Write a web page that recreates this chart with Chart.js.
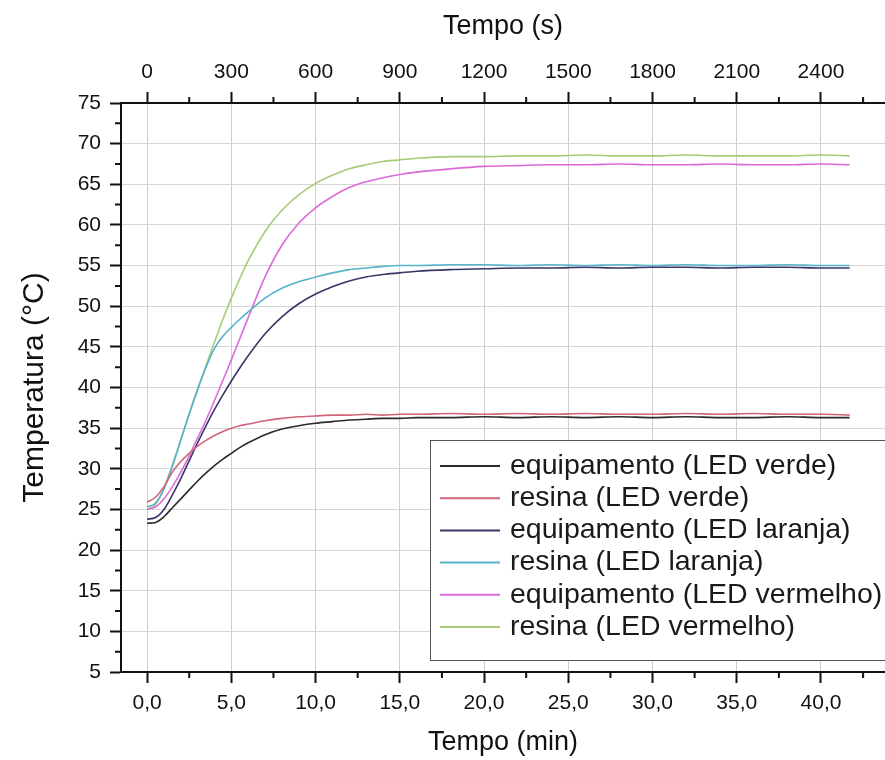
<!DOCTYPE html>
<html>
<head>
<meta charset="utf-8">
<title>Temperatura x Tempo</title>
<script src="https://cdn.jsdelivr.net/npm/chart.js@4.4.1/dist/chart.umd.min.js"></script>
<style>
  html, body { margin: 0; padding: 0; background: #fff; }
</style>
</head>
<body>
<canvas id="tempChart" width="885" height="760"></canvas>
<script>
// tempo em minutos
const tempo = [0, 0.5, 1, 1.5, 2, 2.5, 3, 3.5, 4, 4.5, 5, 5.5, 6, 7, 8, 9, 10, 11, 12, 13, 14, 15, 16, 18, 20, 22, 24, 26, 28, 30, 32, 34, 36, 38, 40, 41.7];

// temperaturas (C)
const equipVerde = [23.3, 23.4, 24.1, 25.2, 26.3, 27.4, 28.5, 29.5, 30.4, 31.2, 31.9, 32.6, 33.2, 34.2, 34.9, 35.3, 35.6, 35.8, 36.0, 36.1, 36.2, 36.2, 36.3, 36.3, 36.4, 36.3, 36.4, 36.3, 36.4, 36.3, 36.4, 36.3, 36.3, 36.4, 36.3, 36.3];
const resinaVerde = [25.9, 26.5, 27.8, 29.6, 30.9, 31.9, 32.8, 33.5, 34.1, 34.6, 35.0, 35.3, 35.5, 35.9, 36.2, 36.4, 36.5, 36.6, 36.6, 36.7, 36.6, 36.7, 36.7, 36.8, 36.7, 36.8, 36.7, 36.8, 36.7, 36.7, 36.8, 36.7, 36.8, 36.7, 36.7, 36.6];
const equipLaranja = [23.8, 24.0, 25.0, 26.8, 28.8, 31.0, 33.2, 35.3, 37.3, 39.1, 40.8, 42.4, 43.9, 46.6, 48.7, 50.3, 51.5, 52.4, 53.1, 53.6, 53.9, 54.1, 54.3, 54.5, 54.6, 54.7, 54.7, 54.8, 54.7, 54.8, 54.8, 54.7, 54.8, 54.8, 54.7, 54.7];
const resinaLaranja = [25.3, 25.8, 27.5, 30.3, 33.5, 36.8, 39.8, 42.5, 44.8, 46.3, 47.4, 48.4, 49.3, 51.0, 52.2, 53.0, 53.6, 54.1, 54.5, 54.7, 54.9, 55.0, 55.0, 55.1, 55.1, 55.0, 55.1, 55.0, 55.1, 55.0, 55.1, 55.0, 55.0, 55.1, 55.0, 55.0];
const equipVermelho = [25.0, 25.3, 26.3, 27.8, 29.6, 31.6, 33.8, 36.0, 38.4, 40.9, 43.4, 46.0, 48.6, 53.6, 57.5, 60.2, 62.1, 63.5, 64.6, 65.3, 65.8, 66.2, 66.5, 66.9, 67.2, 67.3, 67.4, 67.4, 67.5, 67.4, 67.4, 67.5, 67.4, 67.4, 67.5, 67.4];
const resinaVermelho = [25.0, 25.6, 27.6, 30.5, 33.6, 36.7, 39.7, 42.7, 45.6, 48.4, 51.0, 53.4, 55.6, 59.2, 61.8, 63.7, 65.1, 66.1, 66.9, 67.4, 67.8, 68.0, 68.2, 68.4, 68.4, 68.5, 68.5, 68.6, 68.5, 68.5, 68.6, 68.5, 68.5, 68.5, 68.6, 68.5];

const seriesLabels = ['equipamento (LED verde)', 'resina (LED verde)', 'equipamento (LED laranja)', 'resina (LED laranja)', 'equipamento (LED vermelho)', 'resina (LED vermelho)'];
const seriesColors = ['#2b2b2b', '#d0647a', '#3c3468', '#58b2cc', '#dc6ad8', '#a6cc78'];

// ticks
const minTicks = [0, 5, 10, 15, 20, 25, 30, 35, 40];
const secTicks = [0, 300, 600, 900, 1200, 1500, 1800, 2100, 2400];
const tempTicks = [5, 10, 15, 20, 25, 30, 35, 40, 45, 50, 55, 60, 65, 70, 75];

const xMin = -1.55, xMax = 43.8;
const FONT = "'Liberation Sans', Arial, sans-serif";

const allSeries = [equipVerde, resinaVerde, equipLaranja, resinaLaranja, equipVermelho, resinaVermelho];
const datasets = allSeries.map((vals, i) => ({
    label: seriesLabels[i],
    data: vals.map((v, k) => ({ x: tempo[k], y: v })),
    borderColor: seriesColors[i],
    backgroundColor: seriesColors[i],
    borderWidth: 1.6,
    pointRadius: 0,
    cubicInterpolationMode: 'monotone',
    fill: false
}));

// minor ticks + legend inside the plot
const extrasPlugin = {
    id: 'extras',
    afterDraw(chart) {
        const ctx = chart.ctx;
        const area = chart.chartArea;
        const sx = chart.scales.x, sx2 = chart.scales.x2, sy = chart.scales.y;
        ctx.save();
        ctx.strokeStyle = '#111';
        ctx.lineWidth = 2;
        ctx.beginPath();
        for (let v = 7.5; v < 75; v += 5) {
            const py = sy.getPixelForValue(v);
            ctx.moveTo(area.left - 6, py); ctx.lineTo(area.left, py);
        }
        for (let v = 2.5; v < xMax; v += 5) {
            const px = sx.getPixelForValue(v);
            ctx.moveTo(px, area.bottom); ctx.lineTo(px, area.bottom + 6);
        }
        for (let v = 150; v < xMax * 60; v += 300) {
            const px = sx2.getPixelForValue(v);
            ctx.moveTo(px, area.top); ctx.lineTo(px, area.top - 6);
        }
        ctx.stroke();

        // legend box
        const bx = 430, by = 440, bw = 470, bh = 220;
        ctx.fillStyle = '#fff';
        ctx.fillRect(bx, by, bw, bh);
        ctx.strokeStyle = '#555';
        ctx.lineWidth = 1;
        ctx.strokeRect(bx + 0.5, by + 0.5, bw, bh);
        ctx.font = '28.5px ' + FONT;
        ctx.textBaseline = 'middle';
        chart.data.datasets.forEach((ds, i) => {
            const cy = 466 + i * 32.2;
            ctx.strokeStyle = ds.borderColor;
            ctx.lineWidth = 2;
            ctx.beginPath();
            ctx.moveTo(440, cy); ctx.lineTo(500, cy);
            ctx.stroke();
            ctx.fillStyle = '#1a1a1a';
            ctx.fillText(ds.label, 510, cy);
        });
        ctx.restore();
    }
};

const tickFont = { family: FONT, size: 21 };
const titleFont = { family: FONT, size: 27 };

const ctx = document.getElementById('tempChart').getContext('2d');
const tempChart = new Chart(ctx, {
    type: 'line',
    data: { datasets: datasets },
    options: {
        responsive: false,
        animation: false,
        events: [],
        layout: { padding: 0 },
        plugins: {
            legend: { display: false },
            tooltip: { enabled: false }
        },
        scales: {
            x: {
                type: 'linear',
                position: 'bottom',
                min: xMin,
                max: xMax,
                afterBuildTicks: s => { s.ticks = minTicks.map(v => ({ value: v })); },
                afterFit: s => { s.height = 88; },
                grid: { color: '#cfcfcf', lineWidth: 1, tickColor: '#111', tickLength: 11, tickWidth: 2 },
                border: { color: '#111', width: 2 },
                ticks: {
                    color: '#111', font: tickFont, padding: 8, maxRotation: 0, autoSkip: false,
                    callback: v => v.toFixed(1).replace('.', ',')
                },
                title: { display: true, text: 'Tempo (min)', color: '#111', font: titleFont, padding: { top: 0, bottom: 1 } }
            },
            x2: {
                type: 'linear',
                position: 'top',
                min: xMin * 60,
                max: xMax * 60,
                afterBuildTicks: s => { s.ticks = secTicks.map(v => ({ value: v })); },
                afterFit: s => { s.height = 103; },
                grid: { drawOnChartArea: false, tickColor: '#111', tickLength: 11, tickWidth: 2 },
                border: { color: '#111', width: 2 },
                ticks: {
                    color: '#111', font: tickFont, padding: 7, maxRotation: 0, autoSkip: false,
                    callback: v => String(v)
                },
                title: { display: true, text: 'Tempo (s)', color: '#111', font: titleFont, padding: { top: 10, bottom: 0 } }
            },
            y: {
                type: 'linear',
                position: 'left',
                min: 5,
                max: 75,
                afterBuildTicks: s => { s.ticks = tempTicks.map(v => ({ value: v })); },
                afterFit: s => { s.width = 121; },
                grid: { color: '#d6d6d6', lineWidth: 1, tickColor: '#111', tickLength: 11, tickWidth: 2 },
                border: { color: '#111', width: 2 },
                ticks: { color: '#111', font: tickFont, padding: 9, autoSkip: false },
                title: { display: true, text: 'Temperatura (°C)', color: '#111', font: { family: FONT, size: 30 }, padding: { top: 17, bottom: 0 } }
            }
        }
    },
    plugins: [extrasPlugin]
});
</script>
</body>
</html>
